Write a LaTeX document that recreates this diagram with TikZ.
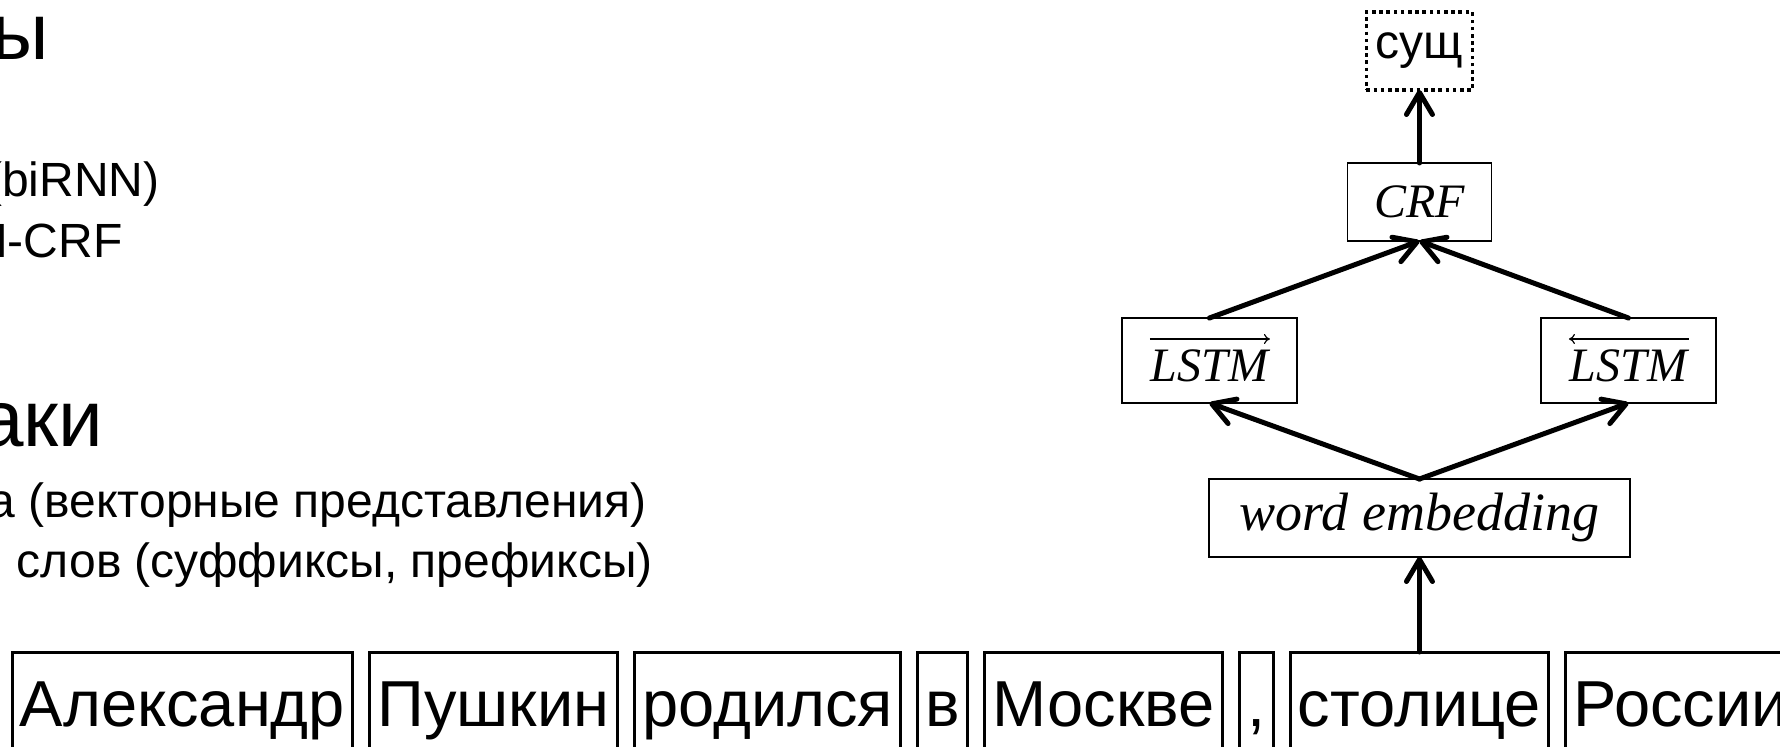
\documentclass[tikz,border=0pt]{standalone}
\usepackage{fontspec}
\setmainfont{Liberation Sans}
\newfontfamily\labelfont{Liberation Serif}
\usetikzlibrary{arrows.meta,positioning}

\begin{document}
\begin{tikzpicture}[
    x=0.5pt,y=0.5pt,
    node distance=8.5pt,
    word/.style={rectangle,draw,line width=1.5pt,outer sep=0pt,inner xsep=3.9pt,inner ysep=12.6pt,text height=24.4pt,text depth=8pt,font=\fontsize{32.5}{39}\selectfont},
    layer/.style={rectangle,draw,line width=0.75pt,outer sep=0pt,inner sep=0pt,minimum height=39pt,font=\labelfont\itshape\fontsize{24}{29}\selectfont},
    lstm/.style={layer,minimum width=87.5pt,minimum height=42.5pt,text height=21pt,text depth=0pt,
        path picture={\draw[line width=0.6pt,#1] ([xshift=14pt,yshift=-10.5pt]path picture bounding box.north west) -- ([xshift=-13.5pt,yshift=-10.5pt]path picture bounding box.north east);}},
    tagbox/.style={rectangle,draw,line width=1.8pt,dash pattern=on 1.8pt off 1.8pt,outer sep=0pt,inner sep=0pt,minimum width=53pt,minimum height=39pt,font=\fontsize{24}{29}\selectfont},
    heading/.style={inner sep=0pt,anchor=base east,font=\fontsize{40}{48}\selectfont},
    bullet/.style={inner sep=0pt,anchor=base east,font=\fontsize{24}{29}\selectfont},
    arrow/.style={-{Straight Barb[length=11pt,width=13pt,round]},line width=2.5pt,line cap=round}
]
\useasboundingbox (0,0) rectangle (1780,-747);

% Slide text (cut at the left edge)
\node[heading] (h1) at (49,-60) {ы};
\node[bullet] (b1) at (160,-197) {(biRNN)};
\node[bullet] (b2) at (123,-258) {N-CRF};
\node[heading] (h2) at (104,-447) {аки};
\node[bullet] (b3) at (647,-517) {а (векторные представления)};
\node[bullet] (b4) at (653,-577) {слов (суффиксы, префиксы)};

% Sentence
\node[word,anchor=north west] (w1) at (12,-652) {Александр};
\node[word,right=of w1] (w2) {Пушкин};
\node[word,right=of w2] (w3) {родился};
\node[word,right=of w3] (w4) {в};
\node[word,right=of w4] (w5) {Москве};
\node[word,right=of w5] (w6) {,};
\node[word,right=of w6] (w7) {столице};
\node[word,right=of w7] (w8) {России};

% Network
\node[layer,above=47.5pt of w7,minimum width=210.5pt,font=\labelfont\itshape\fontsize{27}{32}\selectfont] (emb) {word embedding};
\node[lstm={-{To[length=3pt,width=5pt]}},above=38pt of emb,xshift=-105pt] (fwd) {LSTM};
\node[lstm={{To[length=3pt,width=5pt]}-},above=38pt of emb,xshift=104.5pt] (bwd) {LSTM};
\node[layer,above=119pt of emb,minimum width=72pt] (crf) {CRF};
\node[tagbox,above=36.5pt of crf] (tag) {сущ};

% Arrows
\draw[arrow] (w7.north) -- (emb.south);
\draw[arrow] (emb.north) -- (fwd.south);
\draw[arrow] (emb.north) -- (bwd.south);
\draw[arrow] (fwd.north) -- (crf.south);
\draw[arrow] (bwd.north) -- (crf.south);
\draw[arrow] (crf.north) -- (tag.south);

\end{tikzpicture}
\end{document}
